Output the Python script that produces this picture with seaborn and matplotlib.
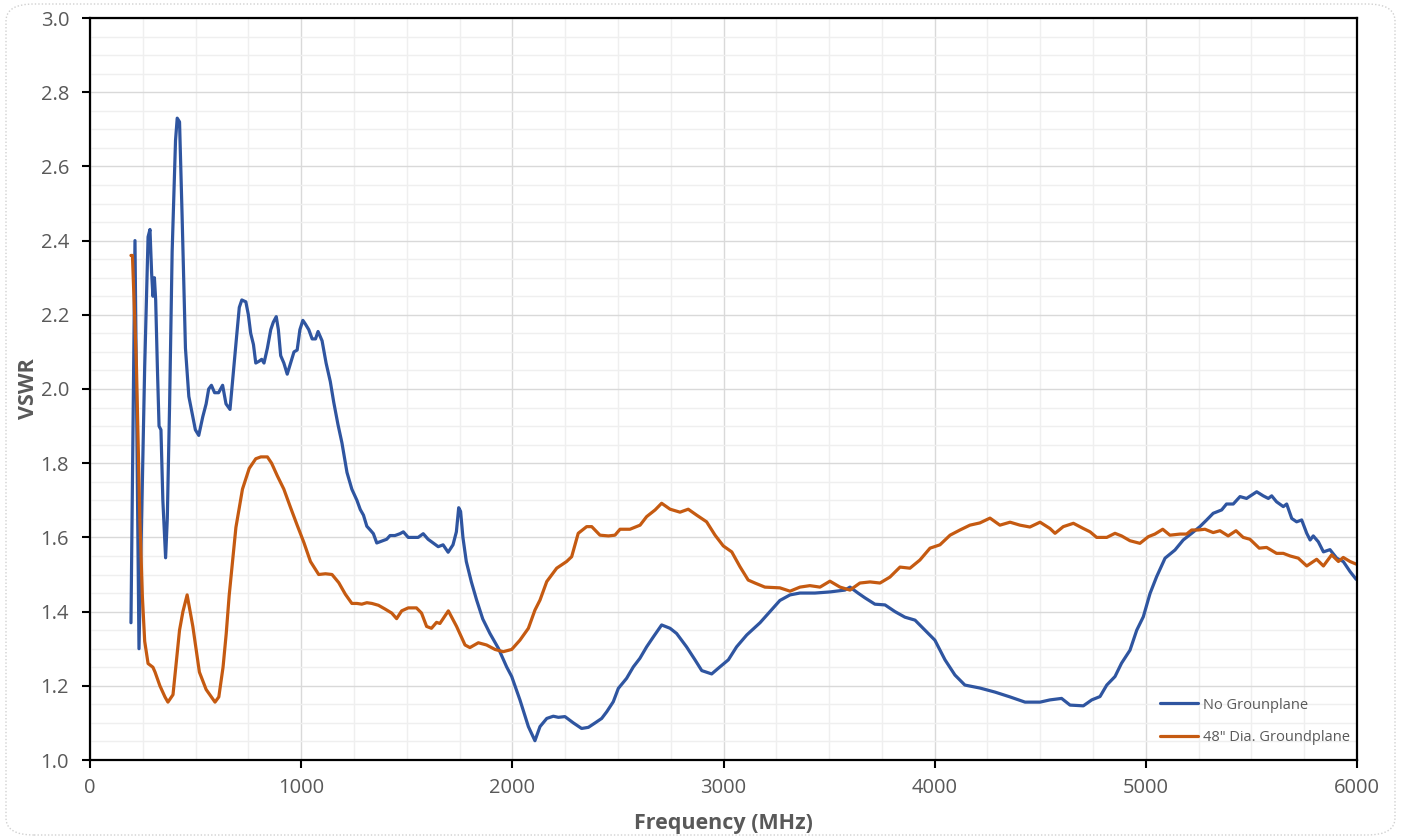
import numpy as np
import pandas as pd
import matplotlib
matplotlib.use("Agg")
import matplotlib.pyplot as plt
from matplotlib.patches import FancyBboxPatch
from matplotlib.ticker import MultipleLocator
import seaborn as sns

# ---------------- data ----------------
freq_no_gp = [194, 213, 232, 259, 275, 284, 292, 298, 305, 311, 319, 327, 336, 345, 358, 366, 377, 389,
              405, 413, 424, 436, 452, 468, 487, 499, 515, 534, 550, 562, 575, 590, 609, 628, 644, 663,
              678, 694, 707, 719, 738, 750, 761, 774, 785, 801, 813, 824, 840, 856, 868, 882, 892, 903,
              918, 934, 950, 966, 981, 994, 1008, 1020, 1036, 1052, 1068, 1080, 1099, 1118, 1138, 1154,
              1174, 1193, 1217, 1240, 1264, 1280, 1295, 1311, 1327, 1342, 1358, 1382, 1405, 1421, 1444,
              1468, 1484, 1507, 1531, 1554, 1578, 1601, 1625, 1649, 1672, 1696, 1719, 1735, 1746, 1755,
              1766, 1782, 1806, 1831, 1860, 1894, 1934, 1973, 1997, 2036, 2076, 2107, 2131, 2163, 2194,
              2218, 2249, 2289, 2328, 2360, 2392, 2423, 2447, 2478, 2502, 2541, 2573, 2604, 2636, 2668,
              2707, 2747, 2778, 2825, 2865, 2897, 2944, 2983, 3023, 3062, 3110, 3173, 3220, 3267, 3315,
              3362, 3433, 3504, 3575, 3599, 3637, 3670, 3717, 3765, 3812, 3859, 3907, 3954, 4001, 4049,
              4096, 4143, 4214, 4286, 4357, 4428, 4499, 4546, 4601, 4641, 4704, 4744, 4783, 4815, 4854,
              4885, 4925, 4957, 4988, 5020, 5051, 5091, 5138, 5177, 5217, 5256, 5288, 5319, 5359, 5382,
              5414, 5446, 5477, 5525, 5556, 5580, 5596, 5619, 5651, 5667, 5691, 5714, 5738, 5762, 5778,
              5793, 5817, 5841, 5872, 5904, 5935, 5967, 5996]
vswr_no_gp = [1.37, 2.40, 1.30, 2.06, 2.41, 2.43, 2.31, 2.25, 2.30, 2.24, 2.06, 1.90, 1.89, 1.70, 1.545,
              1.65, 1.96, 2.37, 2.67, 2.73, 2.72, 2.47, 2.11, 1.98, 1.925, 1.89, 1.875, 1.925, 1.96, 2.00,
              2.01, 1.99, 1.99, 2.01, 1.96, 1.945, 2.04, 2.14, 2.22, 2.24, 2.235, 2.20, 2.15, 2.12, 2.07,
              2.075, 2.08, 2.07, 2.11, 2.16, 2.18, 2.195, 2.16, 2.09, 2.07, 2.04, 2.07, 2.10, 2.105, 2.16,
              2.185, 2.175, 2.16, 2.135, 2.135, 2.155, 2.13, 2.07, 2.02, 1.965, 1.905, 1.855, 1.775, 1.73,
              1.70, 1.675, 1.66, 1.63, 1.62, 1.61, 1.585, 1.59, 1.595, 1.605, 1.605, 1.61, 1.615, 1.60,
              1.60, 1.60, 1.61, 1.595, 1.585, 1.575, 1.58, 1.56, 1.58, 1.615, 1.68, 1.67, 1.60, 1.535,
              1.48, 1.431, 1.38, 1.341, 1.301, 1.251, 1.225, 1.162, 1.090, 1.052, 1.090, 1.112, 1.118,
              1.115, 1.117, 1.100, 1.085, 1.088, 1.100, 1.112, 1.130, 1.157, 1.193, 1.220, 1.251, 1.274,
              1.305, 1.332, 1.364, 1.355, 1.341, 1.305, 1.270, 1.241, 1.232, 1.251, 1.270, 1.305, 1.337,
              1.37, 1.40, 1.43, 1.445, 1.45, 1.45, 1.453, 1.458, 1.466, 1.45, 1.437, 1.42, 1.418, 1.40,
              1.385, 1.377, 1.35, 1.323, 1.27, 1.229, 1.202, 1.194, 1.183, 1.170, 1.156, 1.156, 1.162,
              1.166, 1.148, 1.146, 1.162, 1.171, 1.202, 1.225, 1.261, 1.296, 1.350, 1.386, 1.449, 1.494,
              1.544, 1.566, 1.593, 1.611, 1.629, 1.647, 1.665, 1.674, 1.690, 1.690, 1.710, 1.705, 1.723,
              1.712, 1.705, 1.712, 1.696, 1.683, 1.690, 1.651, 1.642, 1.647, 1.611, 1.593, 1.604, 1.588,
              1.561, 1.567, 1.544, 1.535, 1.508, 1.487]

freq_48_gp = [194, 201, 220, 236, 248, 259, 275, 298, 308, 331, 355, 369, 393, 424, 440, 460, 487, 518,
              550, 592, 610, 630, 645, 659, 691, 722, 754, 785, 809, 840, 860, 887, 918, 950, 981, 1013,
              1044, 1083, 1115, 1146, 1178, 1209, 1240, 1264, 1287, 1311, 1335, 1366, 1397, 1429, 1452,
              1476, 1507, 1546, 1570, 1594, 1617, 1641, 1657, 1697, 1736, 1776, 1799, 1839, 1878, 1918,
              1957, 1997, 2036, 2076, 2107, 2131, 2163, 2210, 2257, 2281, 2312, 2352, 2376, 2415, 2455,
              2486, 2510, 2557, 2605, 2636, 2676, 2707, 2747, 2794, 2833, 2873, 2920, 2960, 2999, 3039,
              3078, 3117, 3149, 3196, 3267, 3315, 3362, 3409, 3457, 3504, 3552, 3599, 3646, 3694, 3741,
              3788, 3836, 3883, 3930, 3978, 4025, 4073, 4120, 4167, 4214, 4262, 4309, 4357, 4404, 4451,
              4499, 4546, 4570, 4609, 4657, 4704, 4736, 4767, 4815, 4854, 4885, 4925, 4972, 5012, 5043,
              5080, 5114, 5162, 5193, 5217, 5248, 5280, 5319, 5351, 5390, 5427, 5461, 5493, 5537, 5572,
              5619, 5651, 5683, 5722, 5762, 5809, 5841, 5880, 5912, 5935, 5967, 5996]
vswr_48_gp = [2.36, 2.36, 2.06, 1.65, 1.44, 1.32, 1.26, 1.25, 1.237, 1.20, 1.17, 1.156, 1.176, 1.35, 1.40,
              1.445, 1.36, 1.237, 1.19, 1.156, 1.17, 1.25, 1.34, 1.443, 1.627, 1.73, 1.786, 1.812, 1.817,
              1.817, 1.80, 1.766, 1.73, 1.68, 1.633, 1.586, 1.535, 1.50, 1.502, 1.50, 1.478, 1.447, 1.422,
              1.422, 1.42, 1.424, 1.422, 1.417, 1.407, 1.396, 1.381, 1.402, 1.41, 1.41, 1.396, 1.36, 1.355,
              1.371, 1.368, 1.402, 1.36, 1.310, 1.303, 1.316, 1.31, 1.298, 1.292, 1.298, 1.323, 1.355,
              1.404, 1.431, 1.481, 1.517, 1.535, 1.548, 1.611, 1.629, 1.629, 1.606, 1.604, 1.606, 1.622,
              1.622, 1.633, 1.656, 1.674, 1.692, 1.676, 1.668, 1.676, 1.660, 1.642, 1.606, 1.577, 1.561,
              1.521, 1.485, 1.477, 1.466, 1.464, 1.455, 1.466, 1.47, 1.466, 1.482, 1.466, 1.458, 1.477,
              1.48, 1.477, 1.493, 1.52, 1.517, 1.539, 1.571, 1.58, 1.606, 1.62, 1.633, 1.639, 1.652, 1.633,
              1.641, 1.633, 1.628, 1.641, 1.624, 1.611, 1.629, 1.638, 1.624, 1.615, 1.600, 1.600, 1.611,
              1.604, 1.591, 1.584, 1.602, 1.609, 1.622, 1.606, 1.609, 1.609, 1.620, 1.620, 1.622, 1.613,
              1.618, 1.604, 1.618, 1.600, 1.595, 1.571, 1.573, 1.557, 1.557, 1.550, 1.544, 1.523, 1.541,
              1.523, 1.553, 1.535, 1.546, 1.535, 1.528]

series_names = ["No Grounplane", '48" Dia. Groundplane']
series_colors = ["#2F55A0", "#C55A11"]
x_label = "Frequency (MHz)"
y_label = "VSWR"

df = pd.concat([
    pd.DataFrame({"freq": freq_no_gp, "vswr": vswr_no_gp, "series": series_names[0]}),
    pd.DataFrame({"freq": freq_48_gp, "vswr": vswr_48_gp, "series": series_names[1]}),
], ignore_index=True)

# ---------------- plot ----------------
sns.set_style("white")
plt.rcParams["font.family"] = ["Open Sans", "DejaVu Sans"]

fig = plt.figure(figsize=(14.01, 8.39), dpi=100)
W, H = 1401, 839
ax = fig.add_axes([90 / W, (H - 760) / H, (1357 - 90) / W, (760 - 18) / H])

# outer chart border (Excel-style)
fig.patches.append(FancyBboxPatch((6 / W, 4 / H), (W - 12) / W, (H - 8) / H,
                                  boxstyle="round,pad=0,rounding_size=0.02",
                                  transform=fig.transFigure, fill=False,
                                  ec="#D0D0D0", lw=1.0, ls=(0, (1, 1.5)), zorder=0))

sns.lineplot(data=df, x="freq", y="vswr", hue="series", palette=series_colors,
             hue_order=series_names, sort=False, estimator=None, lw=2.3, ax=ax,
             legend=True)

ax.set_xlim(0, 6000)
ax.set_ylim(1.0, 3.0)
ax.xaxis.set_major_locator(MultipleLocator(1000))
ax.xaxis.set_minor_locator(MultipleLocator(250))
ax.yaxis.set_major_locator(MultipleLocator(0.2))
ax.yaxis.set_minor_locator(MultipleLocator(0.05))
ax.yaxis.set_major_formatter(matplotlib.ticker.FormatStrFormatter("%.1f"))

ax.grid(which="major", color="#D9D9D9", lw=1.0)
ax.grid(which="minor", color="#EFEFEF", lw=1.0)
ax.set_axisbelow(True)

for s in ax.spines.values():
    s.set_color("black")
    s.set_linewidth(1.6)

ax.tick_params(axis="both", which="major", direction="out", length=6, width=1.5,
               color="black", labelsize=14.5, labelcolor="#595959")
ax.tick_params(axis="x", which="major", pad=7)
ax.tick_params(axis="y", which="major", pad=9)
ax.tick_params(which="minor", length=0)
ax.tick_params(axis="x", which="both", bottom=True)
ax.tick_params(axis="y", which="both", left=True)

ax.set_xlabel(x_label, fontsize=15.5, fontweight="bold", color="#595959")
ax.set_ylabel(y_label, fontsize=15.5, fontweight="bold", color="#595959")
ax.xaxis.set_label_coords(0.5, -0.071)
ax.yaxis.set_label_coords(-0.040, 0.5)

leg = ax.legend(loc="upper left", bbox_to_anchor=(0.84, 0.092), frameon=False,
                fontsize=10.5, handlelength=2.6, handletextpad=0.35, labelspacing=1.2,
                borderaxespad=0)
for t in leg.get_texts():
    t.set_color("#595959")
for h in leg.get_lines():
    h.set_linewidth(2.3)

fig.savefig("out.png", dpi=100)
